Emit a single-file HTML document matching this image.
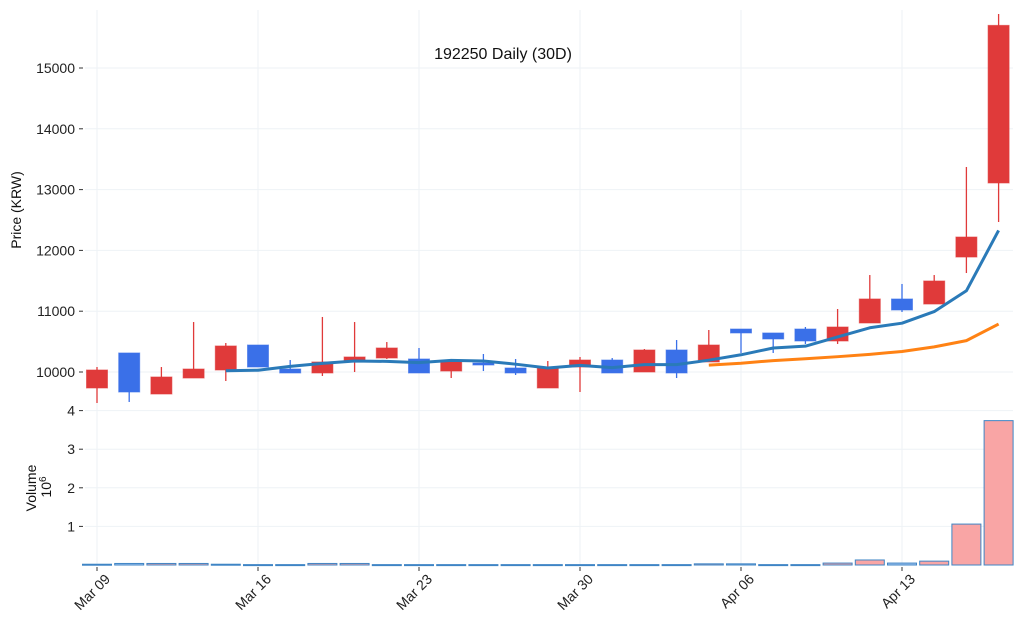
<!DOCTYPE html>
<html><head><meta charset="utf-8"><style>
html,body{margin:0;padding:0;background:#fff;}
svg{display:block;font-family:"Liberation Sans","DejaVu Sans",sans-serif;}
</style></head><body>
<svg id="chart" width="1024" height="629" viewBox="0 0 1024 629"></svg>
<script>
const dates = ["Mar 09","Mar 10","Mar 11","Mar 12","Mar 13","Mar 16","Mar 17","Mar 18","Mar 19","Mar 20","Mar 23","Mar 24","Mar 25","Mar 26","Mar 27","Mar 30","Mar 31","Apr 01","Apr 02","Apr 03","Apr 06","Apr 07","Apr 08","Apr 09","Apr 10","Apr 13","Apr 14","Apr 15","Apr 16"];
const opens  = [9737,10313,9638,9901,10033,10444,10049,9984,10165,10230,10214,10016,10148,10066,9737,10082,10197,10000,10362,10165,10707,10642,10707,10510,10806,11201,11118,11891,13109];
const highs  = [10082,10313,10082,10822,10477,10444,10197,10905,10822,10493,10395,10165,10296,10214,10181,10247,10230,10378,10526,10691,10707,10642,10740,11036,11595,11448,11595,13372,15888];
const lows   = [9490,9507,9638,9901,9852,10082,9984,9934,10000,10214,9984,9901,10016,9951,9737,9671,9984,10000,9901,10165,10313,10313,10461,10461,10806,10987,11118,11628,12467];
const closes = [10033,9671,9918,10049,10428,10082,9984,10165,10247,10395,9984,10165,10115,9984,10082,10197,9984,10362,9984,10444,10642,10543,10510,10740,11201,11020,11497,12220,15701];
const volumes = [0.02,0.04,0.04,0.04,0.02,0.01,0.01,0.04,0.04,0.01,0.01,0.01,0.01,0.01,0.01,0.01,0.01,0.01,0.01,0.03,0.03,0.01,0.01,0.05,0.13,0.05,0.1,1.06,3.74];
const priceTicks = [10000,11000,12000,13000,14000,15000];
const volTicks = [1,2,3,4];
const dateTickIdx = [0,5,10,15,20,25];

const NS="http://www.w3.org/2000/svg";
const svg=document.getElementById('chart');
function mk(tag,attrs,parent){const e=document.createElementNS(NS,tag);for(const k in attrs)e.setAttribute(k,attrs[k]);(parent||svg).appendChild(e);return e;}
const xOf=i=>97+i*32.2;
const yP=v=>372-(v-10000)*0.0608;
const yV=v=>565-v*38.6;
const L=85,R=1013;

const grid=mk('g',{});


dateTickIdx.forEach(i=>{mk('line',{x1:xOf(i),x2:xOf(i),y1:10,y2:565,stroke:'#eef2f6','stroke-width':1},grid);});
priceTicks.forEach(t=>{mk('line',{x1:L,x2:R,y1:yP(t),y2:yP(t),stroke:'#eef2f6','stroke-width':1},grid);});
volTicks.forEach(t=>{mk('line',{x1:L,x2:R,y1:yV(t),y2:yV(t),stroke:'#eef2f6','stroke-width':1},grid);});

priceTicks.forEach(t=>{
  mk('line',{x1:79,x2:83,y1:yP(t),y2:yP(t),stroke:'#333','stroke-width':1});
  const tx=mk('text',{x:75,y:yP(t)+5,'text-anchor':'end','font-size':14,fill:'#222'});
  tx.textContent=t;
  
  
});
volTicks.forEach(t=>{
  mk('line',{x1:79,x2:83,y1:yV(t),y2:yV(t),stroke:'#333','stroke-width':1});
  const tx=mk('text',{x:75,y:yV(t)+5,'text-anchor':'end','font-size':14,fill:'#222'});
  tx.textContent=t;
  
  
});
dateTickIdx.forEach(i=>{
  const x=xOf(i);
  mk('line',{x1:x,x2:x,y1:567,y2:571,stroke:'#333','stroke-width':1});
  const tx=mk('text',{x:0,y:0,'text-anchor':'end','font-size':14,fill:'#222',transform:`translate(${x+14},${580}) rotate(-45)`});
  tx.textContent=dates[i];
  
  
});

const vg=mk('g',{});


volumes.forEach((v,i)=>{
  const up=closes[i]>=opens[i];
  const y=yV(v);
  const r=mk('rect',{x:xOf(i)-14.5,y:y,width:29,height:Math.max(565-y,1),fill:up?'#f9a5a5':'#a9c9f3',stroke:'#3f85c5','stroke-width':1},vg);
  
  
});

const cg=mk('g',{});


opens.forEach((o,i)=>{
  const c=closes[i],up=c>=o,col=up?'#e03a3a':'#3a70e8',x=xOf(i);
  const g=mk('g',{},cg);
  
  
  mk('line',{x1:x,x2:x,y1:yP(highs[i]),y2:yP(lows[i]),stroke:col,'stroke-width':1.3},g);
  const t=yP(Math.max(o,c)),b=yP(Math.min(o,c));
  mk('rect',{x:x-10.5,y:t,width:21,height:Math.max(b-t,1.5),fill:col,stroke:col,'stroke-opacity':0.6,'stroke-width':1},g);
});

function ma(n){const out=[];for(let i=n-1;i<closes.length;i++){let s=0;for(let j=i-n+1;j<=i;j++)s+=closes[j];out.push([i,s/n]);}return out;}
function drawMA(n,col,name){
  const pts=ma(n).map(([i,v])=>xOf(i)+','+yP(v)).join(' ');
  const p=mk('polyline',{points:pts,fill:'none',stroke:col,'stroke-width':3,'stroke-linejoin':'round'});
  
  
}
drawMA(5,'#2a7ab8','ma5-line');
drawMA(20,'#ff8214','ma20-line');

const title=mk('text',{x:503,y:59,'text-anchor':'middle','font-size':16,fill:'#111'});
title.textContent='192250 Daily (30D)';


const yl=mk('text',{x:0,y:0,'text-anchor':'middle','font-size':14,fill:'#111',transform:'translate(21,210) rotate(-90)'});
yl.textContent='Price (KRW)';


const vl=mk('text',{x:0,y:0,'text-anchor':'middle','font-size':14,fill:'#111',transform:'translate(36,488) rotate(-90)'});
vl.textContent='Volume';


const vl2=mk('text',{x:0,y:0,'text-anchor':'middle','font-size':14,fill:'#111',transform:'translate(51,487) rotate(-90)'});
vl2.innerHTML='10<tspan dy="-5" font-size="10">6</tspan>';


</script>
</body></html>
